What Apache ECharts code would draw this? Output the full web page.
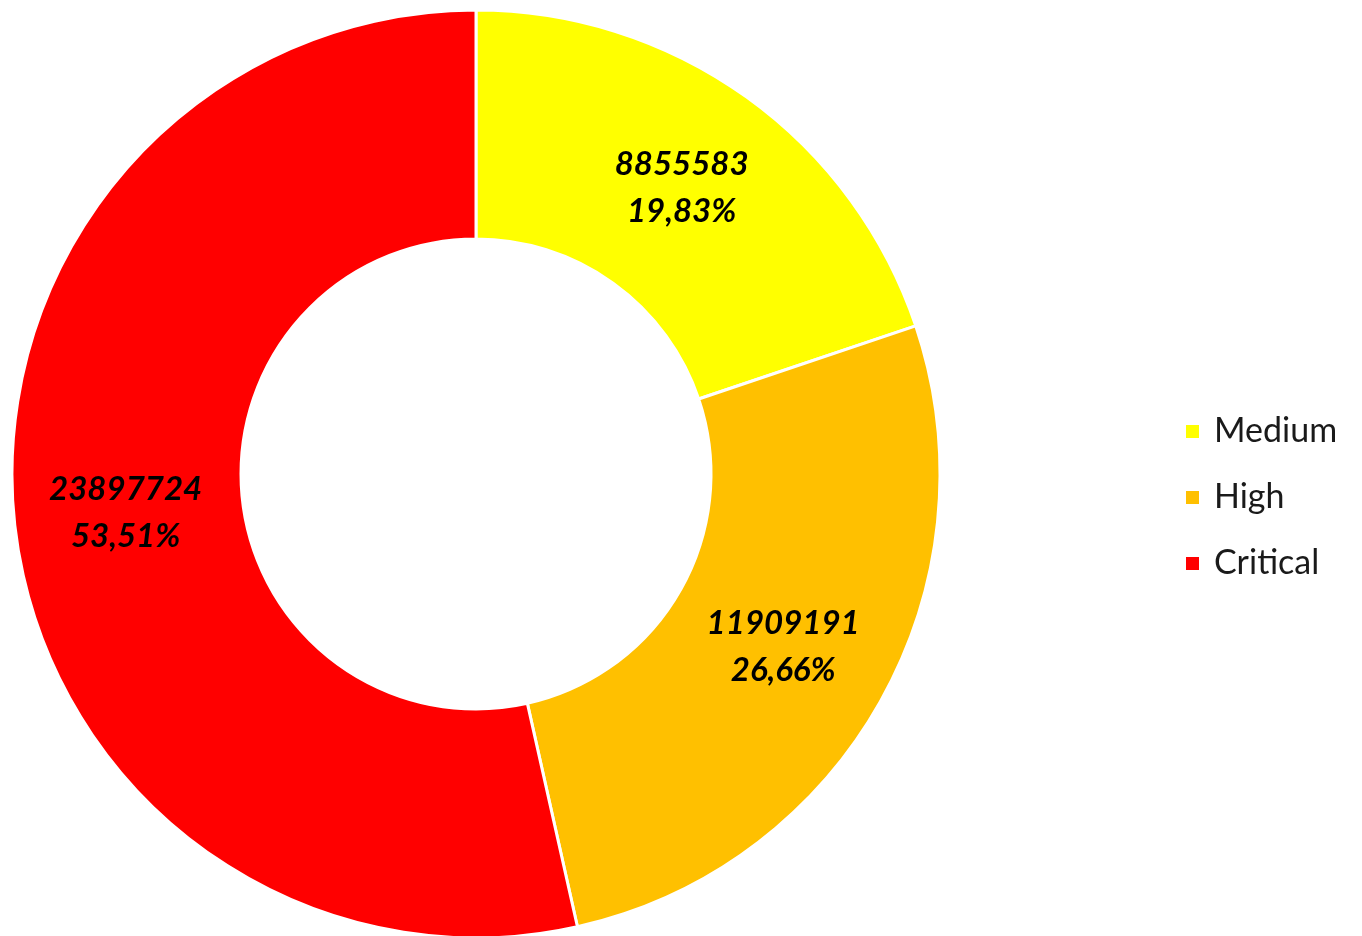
<!DOCTYPE html>
<html>
<head>
<meta charset="utf-8">
<script src="https://cdn.jsdelivr.net/npm/echarts@6/dist/echarts.min.js"></script>
<style>
    html, body { margin: 0; padding: 0; background: #fff; }
    #chart { width: 1362px; height: 936px; }
</style>
</head>
<body>
<div id="chart"></div>
<script>
    var categories = ['Medium', 'High', 'Critical'];
    var values = [8855583, 11909191, 23897724];
    var colors = ['#FFFF00', '#FFC000', '#FF0000'];

    var $chart = echarts.init(document.getElementById('chart'));

    var pieData = categories.map(function (name, i) {
        return { name: name, value: values[i], itemStyle: { color: colors[i] } };
    });

    var option = {
        animation: false,
        legend: {
            orient: 'vertical',
            left: 1184,
            top: 414,
            padding: 0,
            itemWidth: 15,
            itemHeight: 15,
            itemGap: 31,
            icon: 'rect',
            data: categories,
            textStyle: {
                fontFamily: 'Lato',
                fontSize: 34,
                lineHeight: 35,
                color: '#1a1a1a',
                padding: [0, 0, 0, 9]
            }
        },
        series: [{
            type: 'pie',
            center: [476, 474],
            radius: [235, 464],
            startAngle: 90,
            clockwise: true,
            emphasis: { disabled: true },
            itemStyle: { borderColor: '#fff', borderWidth: 3 },
            label: {
                show: true,
                position: 'inside',
                fontFamily: 'Lato',
                fontWeight: 'bold',
                fontStyle: 'italic',
                fontSize: 33,
                lineHeight: 47,
                color: '#000',
                formatter: function (p) {
                    return p.value + '\n' + p.percent.toFixed(2).replace('.', ',') + '%';
                }
            },
            labelLine: { show: false },
            data: pieData
        }]
    };

    $chart.setOption(option);
</script>
</body>
</html>
